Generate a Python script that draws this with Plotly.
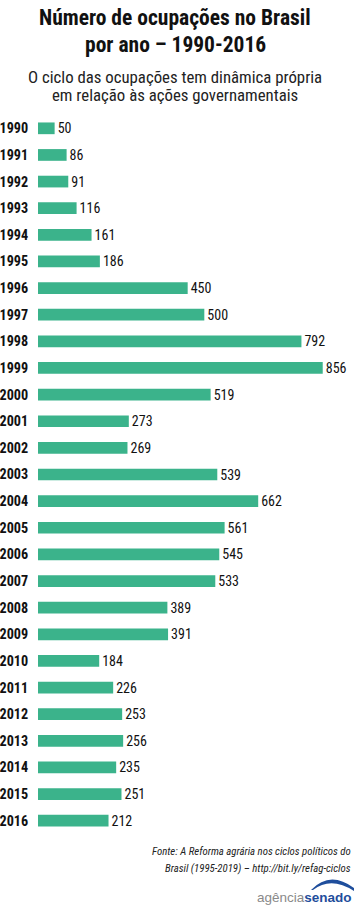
import plotly.graph_objects as go

years = [str(y) for y in range(1990, 2017)]
values = [50, 86, 91, 116, 161, 186, 450, 500, 792, 856, 519, 273, 269, 539,
          662, 561, 545, 533, 389, 391, 184, 226, 253, 256, 235, 251, 212]

title_lines = ["Número de ocupações no Brasil", "por ano – 1990-2016"]
subtitle_lines = ["O ciclo das ocupações tem dinâmica própria",
                  "em relação às ações governamentais"]
source_lines = ["Fonte: A Reforma agrária nos ciclos políticos do",
                "Brasil (1995-2019) – http://bit.ly/refag-ciclos"]

NARROW = "Roboto Condensed, Open Sans Condensed, sans-serif"
GREEN = "#3bb38b"

W, H = 356, 906
ML, MR, MT, MB = 38, 2, 115, 72

fig = go.Figure(go.Bar(
    x=values, y=years, orientation="h",
    marker=dict(color=GREEN, line=dict(width=0)),
    text=[str(v) for v in values], textposition="outside",
    constraintext="none",
    textfont=dict(family=NARROW, size=14, color="#111"),
    cliponaxis=False, hoverinfo="skip",
))

fig.update_layout(
    width=W, height=H,
    margin=dict(l=ML, r=MR, t=MT, b=MB, autoexpand=False),
    paper_bgcolor="white", plot_bgcolor="white",
    bargap=0.56, showlegend=False,
    xaxis=dict(range=[0, 950], visible=False, automargin=False),
    yaxis=dict(autorange="reversed", showgrid=False, zeroline=False, automargin=False,
               showline=False, ticks="outside", ticklen=6, tickcolor="white",
               tickfont=dict(family=NARROW, size=14.2, color="#111", weight="bold")),
)

H_plot = H - MT - MB
W_plot = W - ML - MR
def py(ypix):
    return (H - MB - ypix) / H_plot
def px(xpix):
    return (xpix - ML) / W_plot

ann = []
for line, yp in zip(title_lines, [18, 45]):
    ann.append(dict(text="<b>" + line + "</b>", x=px(175), y=py(yp),
                    font=dict(family=NARROW, size=21.5, color="#111")))
for line, yp in zip(subtitle_lines, [77, 95]):
    ann.append(dict(text=line, x=px(175), y=py(yp),
                    font=dict(family=NARROW, size=16.8, color="#222")))
for a in ann:
    a.update(xref="paper", yref="paper", showarrow=False, xanchor="center", yanchor="middle")

for line, yp in zip(source_lines, [851, 869]):
    ann.append(dict(text="<i>" + line + "</i>", x=px(353), y=py(yp), xref="paper", yref="paper",
                    xanchor="right", yanchor="middle", showarrow=False,
                    font=dict(family=NARROW, size=10.8, color="#222")))

ann.append(dict(text="<span style='color:#8a8a8a'>agência</span><b><span style='color:#1f4e9c'>senado</span></b>",
                x=px(354), y=py(897), xref="paper", yref="paper", xanchor="right", yanchor="middle",
                showarrow=False, font=dict(family="Liberation Sans, Arial, sans-serif", size=13.5)))
fig.update_layout(annotations=ann)

# logo arc
fig.add_shape(type="path", xref="paper", yref="paper",
              path=(f"M {px(311)},{py(890)} Q {px(330)},{py(870)} {px(354)},{py(888)} "
                    f"L {px(354)},{py(891)} Q {px(331)},{py(876)} {px(313)},{py(890)} Z"),
              fillcolor="#1f4e9c", line=dict(width=0))

fig.write_html("out.html", config={"displayModeBar": False, "staticPlot": True},
               post_script="document.body.style.margin='0';")
with open("out.html", encoding="utf-8") as f:
    html = f.read()
html = html.replace("<head>", "<head><style>html,body{margin:0;padding:0;overflow:hidden;}</style>", 1)
with open("out.html", "w", encoding="utf-8") as f:
    f.write(html)
